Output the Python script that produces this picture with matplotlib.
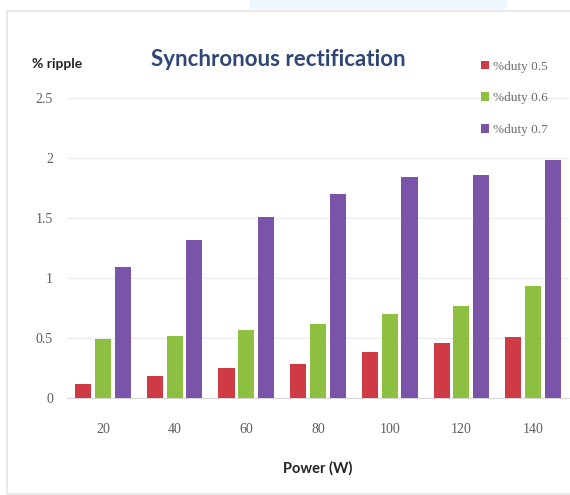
import numpy as np
import matplotlib
matplotlib.use("Agg")
import matplotlib.pyplot as plt
from matplotlib.patches import Rectangle

# ripple (%) vs output power for three duty cycles
power = ["20", "40", "60", "80", "100", "120", "140"]
duty05 = [0.12, 0.18, 0.25, 0.28, 0.38, 0.46, 0.51]
duty06 = [0.49, 0.52, 0.57, 0.62, 0.70, 0.77, 0.93]
duty07 = [1.09, 1.32, 1.51, 1.70, 1.84, 1.86, 1.98]
names = ["%duty 0.5", "%duty 0.6", "%duty 0.7"]
yticks = [0, 0.5, 1, 1.5, 2, 2.5]
ylabels = ["0", "0.5", "1", "1.5", "2", "2.5"]

cols = ["#cf3b45", "#8dbf40", "#7954a8"]

W, H = 570, 495
fig = plt.figure(figsize=(W / 100, H / 100), dpi=100)
fig.patch.set_facecolor("white")

# faint frame round the chart and the pale blue strip above it
fig.patches.append(Rectangle((7 / W, 0.002), 1, 1 - 11 / H - 0.002, transform=fig.transFigure,
                             fill=False, edgecolor="#e4e4ea", lw=1.2))
fig.patches.append(Rectangle((250 / W, 1 - 9 / H), 257 / W, 9 / H, transform=fig.transFigure,
                             facecolor="#e3f3fc", edgecolor="none", alpha=0.6))

ax = fig.add_axes([67 / W, 1 - 398 / H, 502 / W, 300 / H])
x = np.arange(len(power))
bw = 0.224
step = 0.276
for i, (vals, c, n) in enumerate(zip([duty05, duty06, duty07], cols, names)):
    ax.bar(x + (i - 1) * step, vals, bw, color=c, label=n, zorder=3)

ax.set_xlim(-0.5, len(power) - 0.5)
ax.set_ylim(0, 2.5)
ax.set_yticks(yticks)
ax.set_yticklabels(ylabels)
ax.set_xticks(x)
ax.set_xticklabels(power)
ax.grid(axis="y", color="#ececec", lw=1, zorder=0)
for s in ["top", "right", "left"]:
    ax.spines[s].set_visible(False)
ax.spines["bottom"].set_color("#dadada")
ax.tick_params(axis="y", length=0, pad=10, labelsize=10, labelcolor="#5c5c5c")
ax.tick_params(axis="x", length=0, pad=18, labelsize=10, labelcolor="#5c5c5c")
for t in ax.get_xticklabels() + ax.get_yticklabels():
    t.set_family("Liberation Serif")

leg = fig.legend(loc="upper left", bbox_to_anchor=(474 / W, 1 - 54 / H), frameon=False,
                 labelspacing=1.5, handlelength=0.65, handleheight=0.65,
                 handletextpad=0.3, borderpad=0, prop={"family": "Liberation Serif", "size": 9.5})
for t in leg.get_texts():
    t.set_color("#6a6a6a")

fig.text(278 / W, 1 - 60 / H, "Synchronous rectification", ha="center", va="center",
         fontsize=16, fontweight="bold", family="Lato", color="#2f4677")
fig.text(32 / W, 1 - 64 / H, "% ripple", ha="left", va="center",
         fontsize=10, fontweight="bold", family="Lato", color="#222222")
fig.text(318 / W, 1 - 468 / H, "Power (W)", ha="center", va="center",
         fontsize=10.5, fontweight="bold", family="Lato", color="#222222")

fig.savefig("out.png", dpi=100)
